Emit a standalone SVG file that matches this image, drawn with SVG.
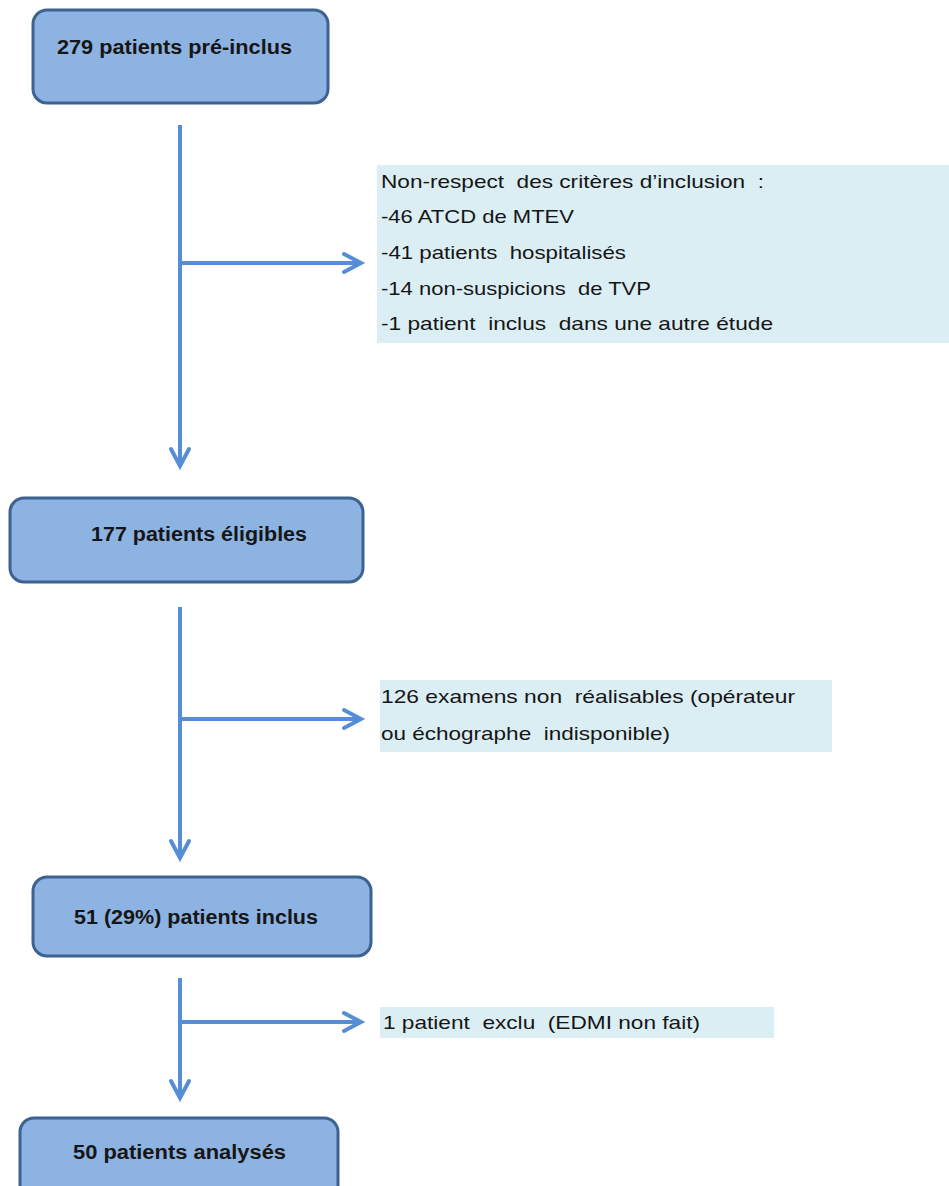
<svg xmlns="http://www.w3.org/2000/svg" width="949" height="1186" viewBox="0 0 949 1186">
  <style>
    .box { fill: #8db3e2; stroke: #3d628f; stroke-width: 3; }
    .note { fill: #dbeef4; stroke: none; }
    .bold { font-family: "Liberation Sans", Arial, sans-serif; font-weight: bold; font-size: 20px; fill: #161616; white-space: pre; }
    .txt { font-family: "Liberation Sans", Arial, sans-serif; font-size: 18.5px; fill: #161616; white-space: pre; }
    .conn { stroke: #558ed5; stroke-width: 4; fill: none; }
  </style>
  <defs>
    <marker id="arrow" markerUnits="userSpaceOnUse" markerWidth="30" markerHeight="30" refX="0" refY="0" orient="auto" overflow="visible">
      <path d="M-17,-9 L0,0 L-17,9" fill="none" stroke="#558ed5" stroke-width="4" stroke-linecap="round" stroke-linejoin="miter"/>
    </marker>
  </defs>

  <g id="node-preinclus">
    <rect class="box" x="33" y="10" width="295" height="93" rx="14" ry="14"/>
    <text class="bold" x="57" y="54" textLength="235" lengthAdjust="spacingAndGlyphs">279 patients pré-inclus</text>
  </g>

  <g id="note-criteres">
    <rect class="note" x="377" y="165" width="572" height="178"/>
    <text class="txt" x="381" y="188" textLength="383" lengthAdjust="spacingAndGlyphs" xml:space="preserve">Non-respect  des critères d’inclusion  :</text>
    <text class="txt" x="381" y="223" textLength="193" lengthAdjust="spacingAndGlyphs" xml:space="preserve">-46 ATCD de MTEV</text>
    <text class="txt" x="381" y="259" textLength="245" lengthAdjust="spacingAndGlyphs" xml:space="preserve">-41 patients  hospitalisés</text>
    <text class="txt" x="381" y="295" textLength="270" lengthAdjust="spacingAndGlyphs" xml:space="preserve">-14 non-suspicions  de TVP</text>
    <text class="txt" x="381" y="330" textLength="392" lengthAdjust="spacingAndGlyphs" xml:space="preserve">-1 patient  inclus  dans une autre étude</text>
  </g>

  <g id="node-eligibles">
    <rect class="box" x="10" y="498" width="353" height="84" rx="14" ry="14"/>
    <text class="bold" x="91" y="541" textLength="216" lengthAdjust="spacingAndGlyphs">177 patients éligibles</text>
  </g>

  <g id="note-examens">
    <rect class="note" x="380" y="680" width="452" height="72"/>
    <text class="txt" x="381" y="703" textLength="414" lengthAdjust="spacingAndGlyphs" xml:space="preserve">126 examens non  réalisables (opérateur</text>
    <text class="txt" x="381" y="740" textLength="289" lengthAdjust="spacingAndGlyphs" xml:space="preserve">ou échographe  indisponible)</text>
  </g>

  <g id="node-inclus">
    <rect class="box" x="33" y="877" width="338" height="79" rx="14" ry="14"/>
    <text class="bold" x="74" y="924" textLength="244" lengthAdjust="spacingAndGlyphs">51 (29%) patients inclus</text>
  </g>

  <g id="note-exclu">
    <rect class="note" x="380" y="1007" width="394" height="31"/>
    <text class="txt" x="383" y="1029" textLength="317" lengthAdjust="spacingAndGlyphs" xml:space="preserve">1 patient  exclu  (EDMI non fait)</text>
  </g>

  <g id="node-analyses">
    <rect class="box" x="20" y="1118" width="318" height="95" rx="14" ry="14"/>
    <text class="bold" x="73" y="1159" textLength="213" lengthAdjust="spacingAndGlyphs">50 patients analysés</text>
  </g>

  <g id="connectors">
    <line class="conn" x1="180" y1="125" x2="180" y2="466" marker-end="url(#arrow)"/>
    <line class="conn" x1="180" y1="263" x2="361" y2="263" marker-end="url(#arrow)"/>
    <line class="conn" x1="180" y1="607" x2="180" y2="858" marker-end="url(#arrow)"/>
    <line class="conn" x1="180" y1="719" x2="361" y2="719" marker-end="url(#arrow)"/>
    <line class="conn" x1="180" y1="978" x2="180" y2="1098" marker-end="url(#arrow)"/>
    <line class="conn" x1="180" y1="1022" x2="361" y2="1022" marker-end="url(#arrow)"/>
  </g>
</svg>
